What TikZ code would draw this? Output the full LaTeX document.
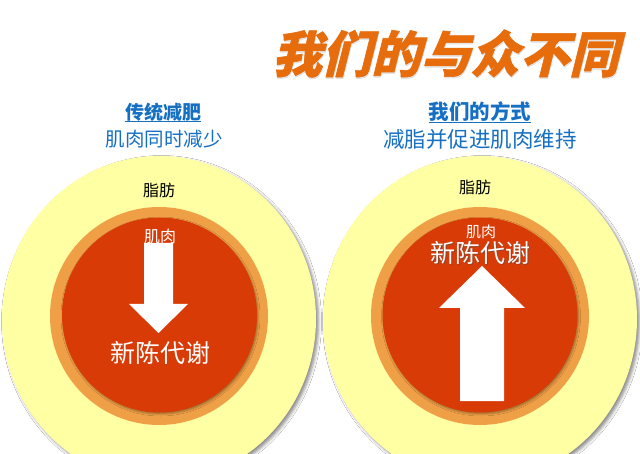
\documentclass[tikz,border=0pt]{standalone}
\usepackage{fontspec}
\setmainfont{Noto Sans CJK SC}
\newfontfamily\cjk{Noto Sans CJK SC}
\newfontfamily\titlefont[BoldFeatures={FakeSlant=0.25,FakeBold=1.2}]{Noto Sans CJK SC}
\usetikzlibrary{shapes.geometric,shadows.blur}
\definecolor{fatyellow}{HTML}{FFFFA3}
\definecolor{ringorange}{HTML}{EFA046}
\definecolor{corered}{HTML}{D93B06}
\definecolor{titleorange}{HTML}{E66C0C}
\definecolor{headblue}{HTML}{1570C4}
\tikzset{
  fatdisc/.style={ellipse, fill=fatyellow, inner sep=0pt, minimum width=314pt, minimum height=326pt,
    blur shadow={shadow xshift=2.5pt, shadow yshift=-2.5pt, shadow blur radius=3pt, shadow opacity=45}},
  ringdisc/.style={circle, fill=ringorange, inner sep=0pt, minimum size=218pt},
  coredisc/.style={circle, fill=corered, inner sep=0pt, minimum size=195pt,
    blur shadow={shadow xshift=1pt, shadow yshift=-1.5pt, shadow blur radius=2pt, shadow opacity=35}},
  fatlbl/.style={inner sep=0pt, text=black, font=\cjk\fontsize{16}{18}\selectfont},
  musclbl/.style={inner sep=0pt, text=white, font=\cjk\fontsize{16}{18}\selectfont},
  metalbl/.style={inner sep=0pt, text=white, font=\cjk\fontsize{25}{28}\selectfont},
  headlbl/.style={inner sep=0pt, text=headblue, font=\cjk\bfseries\fontsize{19}{22}\selectfont},
  sublbl/.style={inner sep=0pt, text=headblue, font=\cjk\fontsize{19.5}{22}\selectfont},
  titlelbl/.style={inner sep=0pt, font=\titlefont\bfseries\fontsize{49.5}{52}\selectfont},
  arrowshape/.style={fill=white},
}
\begin{document}
\begin{tikzpicture}[x=1pt,y=-1pt]
\useasboundingbox (0,0) rectangle (640,454);
\fill[white] (0,0) rectangle (640,454);
\begin{scope}
\clip (0,0) rectangle (640,454);
% title
\node[titlelbl, text=gray!60, opacity=0.3] (titleshadow) at (446,55) {我们的与众不同};
\node[titlelbl, text=titleorange] (title) at (445.5,53.5) {我们的与众不同};
% headings
\node[headlbl] (headL) at (163,112) {传统减肥};
\draw[headblue, line width=1.1pt] ([yshift=-2.5pt]headL.base west) -- ([yshift=-2.5pt]headL.base east);
\node[sublbl] (subL) at (164,139) {肌肉同时减少};
\node[headlbl, font=\cjk\bfseries\fontsize{20.5}{22}\selectfont] (headR) at (480,112) {我们的方式};
\draw[headblue, line width=1.1pt] ([yshift=-2.5pt]headR.base west) -- ([yshift=-2.5pt]headR.base east);
\node[sublbl, font=\cjk\fontsize{21.5}{24}\selectfont] (subR) at (480,139) {减脂并促进肌肉维持};
% left disc
\node[fatdisc] (fatL) at (159,319) {};
\draw[white, opacity=0.5, line width=1.5pt] (159,319) ++(100:155.5 and 161.5) arc[start angle=100, end angle=200, x radius=155.5, y radius=-161.5];
\node[ringdisc] (ringL) at (159,316) {};
\node[coredisc] (coreL) at (159.5,315) {};
\node[fatlbl] (fatLtxt) at (159,190) {脂肪};
\node[musclbl] (muscL) at (160,236) {肌肉};
\fill[arrowshape] (144,243) -- (173,243) -- (173,304) -- (188,304) -- (158.5,333) -- (129,304) -- (144,304) -- cycle;
\node[metalbl] (metaL) at (160,353) {新陈代谢};
% right disc
\node[fatdisc] (fatR) at (480,319) {};
\draw[white, opacity=0.5, line width=1.5pt] (480,319) ++(100:155.5 and 161.5) arc[start angle=100, end angle=200, x radius=155.5, y radius=-161.5];
\node[ringdisc] (ringR) at (480,316) {};
\node[coredisc] (coreR) at (480,315) {};
\node[fatlbl] (fatRtxt) at (475,187) {脂肪};
\fill[arrowshape] (482,266) -- (525,308) -- (504,308) -- (504,401) -- (460,401) -- (460,308) -- (439,308) -- cycle;
\node[musclbl, font=\cjk\fontsize{15}{17}\selectfont] (muscR) at (481,232) {肌肉};
\node[metalbl, text=black!70, opacity=0.5] (metaRsh) at (481,254) {新陈代谢};
\node[metalbl] (metaR) at (480,253) {新陈代谢};
\end{scope}
\end{tikzpicture}
\end{document}
